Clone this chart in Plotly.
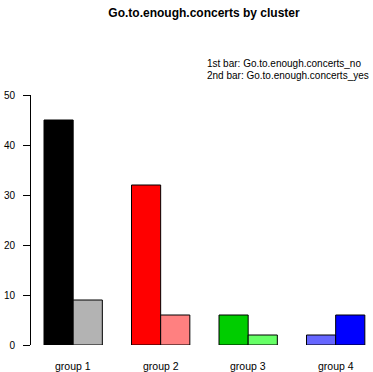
import plotly.graph_objects as go

# Counts per cluster for the survey item "Go.to.enough.concerts"
groups = ["group 1", "group 2", "group 3", "group 4"]
no_counts = [45, 32, 6, 2]
yes_counts = [9, 6, 2, 6]
no_colors = ["#000000", "#FF0000", "#00CD00", "#6666FF"]
yes_colors = ["#B3B3B3", "#FF8080", "#66FF66", "#0000FF"]
y_ticks = [0, 10, 20, 30, 40, 50]

# barplot(beside=TRUE) layout: each group takes two unit-wide bars plus a one-unit gap
first_x = [3 * i + 1.5 for i in range(len(groups))]
second_x = [3 * i + 2.5 for i in range(len(groups))]
centers = [3 * i + 2 for i in range(len(groups))]

font_family = "Liberation Sans, Arial, Helvetica, sans-serif"

fig = go.Figure()
fig.add_trace(go.Bar(
    x=first_x, y=no_counts, width=1,
    marker=dict(color=no_colors, line=dict(color="#000000", width=1)),
    showlegend=False, hoverinfo="y",
))
fig.add_trace(go.Bar(
    x=second_x, y=yes_counts, width=1,
    marker=dict(color=yes_colors, line=dict(color="#000000", width=1)),
    showlegend=False, hoverinfo="y",
))

annotations = []
for g, c in zip(groups, centers):
    annotations.append(dict(
        x=c, y=-0.082, xref="x", yref="paper", text=g, showarrow=False,
        xanchor="center", yanchor="middle",
        font=dict(size=10.5, color="#000000", family=font_family),
    ))
annotations.append(dict(
    x=(205 - 31) / 342, y=1.126, xref="paper", yref="paper",
    text="1st bar: Go.to.enough.concerts_no", showarrow=False,
    xanchor="left", yanchor="middle",
    font=dict(size=10, color="#000000", family=font_family),
))
annotations.append(dict(
    x=(205 - 31) / 342, y=1.078, xref="paper", yref="paper",
    text="2nd bar: Go.to.enough.concerts_yes", showarrow=False,
    xanchor="left", yanchor="middle",
    font=dict(size=10, color="#000000", family=font_family),
))

fig.update_layout(
    width=373, height=372,
    margin=dict(l=31, r=0, t=95, b=27),
    paper_bgcolor="#FFFFFF", plot_bgcolor="#FFFFFF",
    barmode="overlay",
    title=dict(
        text="<b>Go.to.enough.concerts by cluster</b>",
        x=204 / 373, xanchor="center", xref="container",
        y=1 - 13 / 372, yanchor="middle",
        font=dict(size=12, color="#000000", family=font_family),
    ),
    xaxis=dict(
        range=[0.554, 12.28], visible=False, fixedrange=True,
    ),
    yaxis=dict(
        range=[0, 50], tickvals=y_ticks, ticktext=[str(v) for v in y_ticks],
        showgrid=False, zeroline=False,
        showline=True, linecolor="#000000", linewidth=1,
        ticks="outside", ticklen=7, tickcolor="#000000", tickwidth=1,
        tickfont=dict(size=10, color="#000000", family=font_family),
        ticklabelstandoff=6, fixedrange=True,
    ),
    annotations=annotations,
)

fig.write_html("out.html")
